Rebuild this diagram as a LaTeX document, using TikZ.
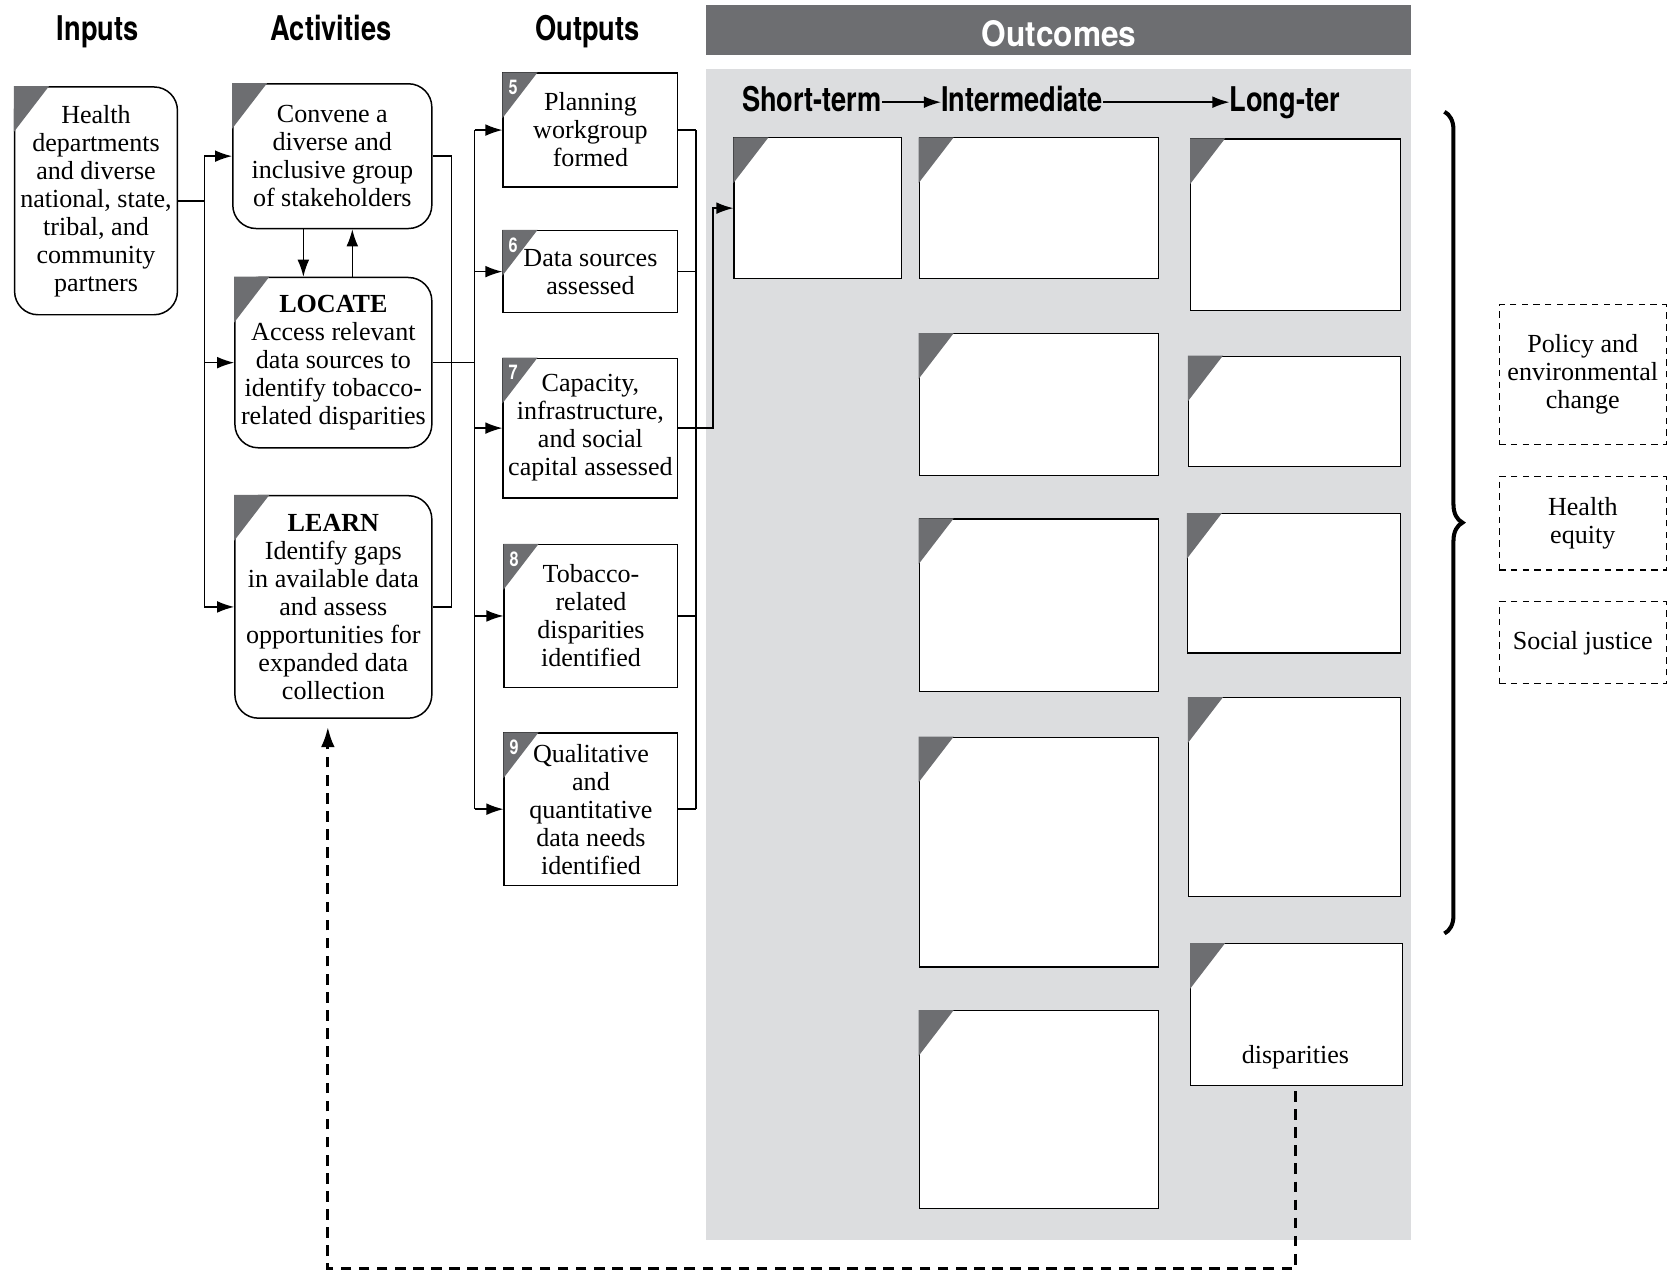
\documentclass[tikz,border=0pt]{standalone}
\usepackage{fontspec}
\setmainfont{Liberation Serif}
\newfontfamily\hdfont[FakeStretch=0.8]{TeX Gyre Heros}
\newfontfamily\ocfont[FakeStretch=0.9]{TeX Gyre Heros}
\usetikzlibrary{arrows.meta,decorations.pathreplacing}
\definecolor{dkgray}{HTML}{6D6E71}
\definecolor{ltgray}{HTML}{DCDDDF}
\newcommand\cornertri[1]{\fill[dkgray] (#1.north west) -- ++(33,0) -- ++(-33,43) -- cycle;}
\begin{document}
\begin{tikzpicture}[x=1pt,y=-1pt,
  body/.style={font=\fontsize{24.5}{26.3}\selectfont, align=center},
  rbox/.style={body, draw, line width=1.4pt, rounded corners=22pt, anchor=north west, inner sep=0pt, fill=white},
  sbox/.style={body, draw, line width=1.4pt, anchor=north west, inner sep=0pt, fill=white},
  obox/.style={draw, fill=white, line width=1.1pt, anchor=north west, inner sep=0pt},
  dbox/.style={body, draw, dash pattern=on 6pt off 5pt, line width=1pt, anchor=north west, inner sep=0pt},
  hdr/.style={font=\hdfont\bfseries\fontsize{32}{36}\selectfont, inner sep=0pt, text height=24pt, text depth=6pt},
  num/.style={font=\hdfont\bfseries\fontsize{19}{19}\selectfont, text=white, inner sep=0pt},
  ln/.style={line width=1.3pt},
  arr/.style={line width=1.3pt, -{Latex[length=16pt,width=11pt]}},
  fb/.style={line width=2.6pt, dash pattern=on 10pt off 7pt, -{Latex[length=19pt,width=13pt]}}
]
\useasboundingbox (0,0) rectangle (1568,1193);

% outcomes background
\fill[dkgray] (663,5) rectangle (1326,52);
\fill[ltgray] (663,65) rectangle (1326,1165);
\node[font=\ocfont\bfseries\fontsize{33}{36}\selectfont, text=white, inner sep=0pt, anchor=base] (oc) at (995,44) {Outcomes};

% column headers
\node[hdr, anchor=base] (hin) at (92,38) {Inputs};
\node[hdr, anchor=base] (hac) at (311,38) {Activities};
\node[hdr, anchor=base] (hout) at (552,38) {Outputs};
\node[hdr, anchor=base west] (st) at (697,105) {Short-term};
\node[hdr, anchor=base west] (im) at (884,105) {Intermediate};
\node[hdr, anchor=base west] (lt) at (1155,105) {Long-ter};
\draw[arr] (st.east) -- (im.west);
\draw[arr] (im.east) -- (lt.west);

% inputs
\node[rbox, minimum width=153pt, minimum height=214pt] (in) at (13,81)
  {Health\\departments\\and diverse\\national, state,\\tribal, and\\community\\partners};
\cornertri{in}

% activities
\node[rbox, minimum width=187pt, minimum height=136pt] (conv) at (218,78)
  {Convene a\\diverse and\\inclusive group\\of stakeholders};
\cornertri{conv}
\node[rbox, minimum width=185pt, minimum height=160pt] (loc) at (220,260)
  {\textbf{LOCATE}\\Access relevant\\data sources to\\identify tobacco-\\related disparities};
\cornertri{loc}
\node[rbox, minimum width=185pt, minimum height=209pt] (learn) at (220,465)
  {\textbf{LEARN}\\Identify gaps\\in available data\\and assess\\opportunities for\\expanded data\\collection};
\cornertri{learn}

% outputs
\node[sbox, minimum width=164pt, minimum height=107pt] (o5) at (472,68) {Planning\\workgroup\\formed};
\node[sbox, minimum width=164pt, minimum height=77pt] (o6) at (472,216) {Data sources\\assessed};
\node[sbox, minimum width=164pt, minimum height=131pt] (o7) at (472,336) {Capacity,\\infrastructure,\\and social\\capital assessed};
\node[sbox, minimum width=163pt, minimum height=134pt] (o8) at (473,511) {Tobacco-\\related\\disparities\\identified};
\node[sbox, minimum width=163pt, minimum height=143pt] (o9) at (473,688) {Qualitative\\and\\quantitative\\data needs\\identified};
\foreach \b/\n in {o5/5,o6/6,o7/7,o8/8,o9/9}{
  \cornertri{\b}
  \node[num] (n\n) at ([shift={(10,14)}]\b.north west) {\n};
}

% outcome boxes
\node[obox, minimum width=157pt, minimum height=132pt] (s1) at (689,129) {};
\node[obox, minimum width=225pt, minimum height=132pt] (i1) at (863,129) {};
\node[obox, minimum width=225pt, minimum height=133pt] (i2) at (863,313) {};
\node[obox, minimum width=225pt, minimum height=162pt] (i3) at (863,487) {};
\node[obox, minimum width=225pt, minimum height=216pt] (i4) at (863,692) {};
\node[obox, minimum width=225pt, minimum height=186pt] (i5) at (863,949) {};
\node[obox, minimum width=197pt, minimum height=161pt] (l1) at (1118,130) {};
\node[obox, minimum width=199pt, minimum height=104pt] (l2) at (1116,334) {};
\node[obox, minimum width=200pt, minimum height=131pt] (l3) at (1115,482) {};
\node[obox, minimum width=199pt, minimum height=187pt] (l4) at (1116,655) {};
\node[obox, minimum width=199pt, minimum height=133pt] (l5) at (1118,886) {};
\foreach \b in {s1,i1,i2,i3,i4,i5,l1,l2,l3,l4,l5}{\cornertri{\b}}
\node[body, inner sep=0pt] (disp) at (1217,993) {disparities};

% right side
\coordinate (br1) at (1357,105);
\coordinate (br2) at (1357,877);
\draw[line width=3.8pt, decorate, decoration={brace, amplitude=17pt}] (br1) -- (br2);
\node[dbox, minimum width=157pt, minimum height=131pt] (d1) at (1408,286) {Policy and\\environmental\\change};
\node[dbox, minimum width=157pt, minimum height=88pt] (d2) at (1408,447) {Health\\equity};
\node[dbox, minimum width=157pt, minimum height=77pt] (d3) at (1408,565) {Social justice};

% connectors: inputs -> activities
\coordinate (busA) at (192,0);
\draw[ln] (in.east) -- (in.east -| busA);
\draw[ln] (busA |- conv.west) -- (busA |- learn.west);
\draw[arr] (busA |- conv.west) -- (conv.west);
\draw[arr] (busA |- loc.west) -- (loc.west);
\draw[arr] (busA |- learn.west) -- (learn.west);

% between convene and locate
\coordinate (dnx) at (285,0);
\coordinate (upx) at (331,0);
\draw[arr] (conv.south -| dnx) -- (loc.north -| dnx);
\draw[arr] (loc.north -| upx) -- (conv.south -| upx);

% activities -> outputs
\coordinate (busB) at (424,0);
\coordinate (busC) at (446,0);
\draw[ln] (conv.east) -- (conv.east -| busB) -- (learn.east -| busB) -- (learn.east);
\draw[ln] (loc.east) -- (loc.east -| busC);
\draw[ln] (busC |- o5.west) -- (busC |- o9.west);
\foreach \b in {o5,o6,o7,o8,o9}{\draw[arr] (busC |- \b.west) -- (\b.west);}

% outputs -> short-term
\coordinate (busD) at (654,0);
\coordinate (busE) at (670,0);
\foreach \b in {o5,o6,o8,o9}{\draw[ln] (\b.east) -- (\b.east -| busD);}
\draw[ln] (busD |- o5.east) -- (busD |- o9.east);
\draw[arr] (o7.east) -- (o7.east -| busE) -- (busE |- s1.west) -- (s1.west);

% feedback loop
\coordinate (fb1) at (1217,1025);
\coordinate (fb2) at (1217,1192);
\coordinate (fb3) at (308,1192);
\coordinate (fb4) at (308,683);
\draw[fb] (fb1) -- (fb2) -- (fb3) -- (fb4);
\end{tikzpicture}
\end{document}
